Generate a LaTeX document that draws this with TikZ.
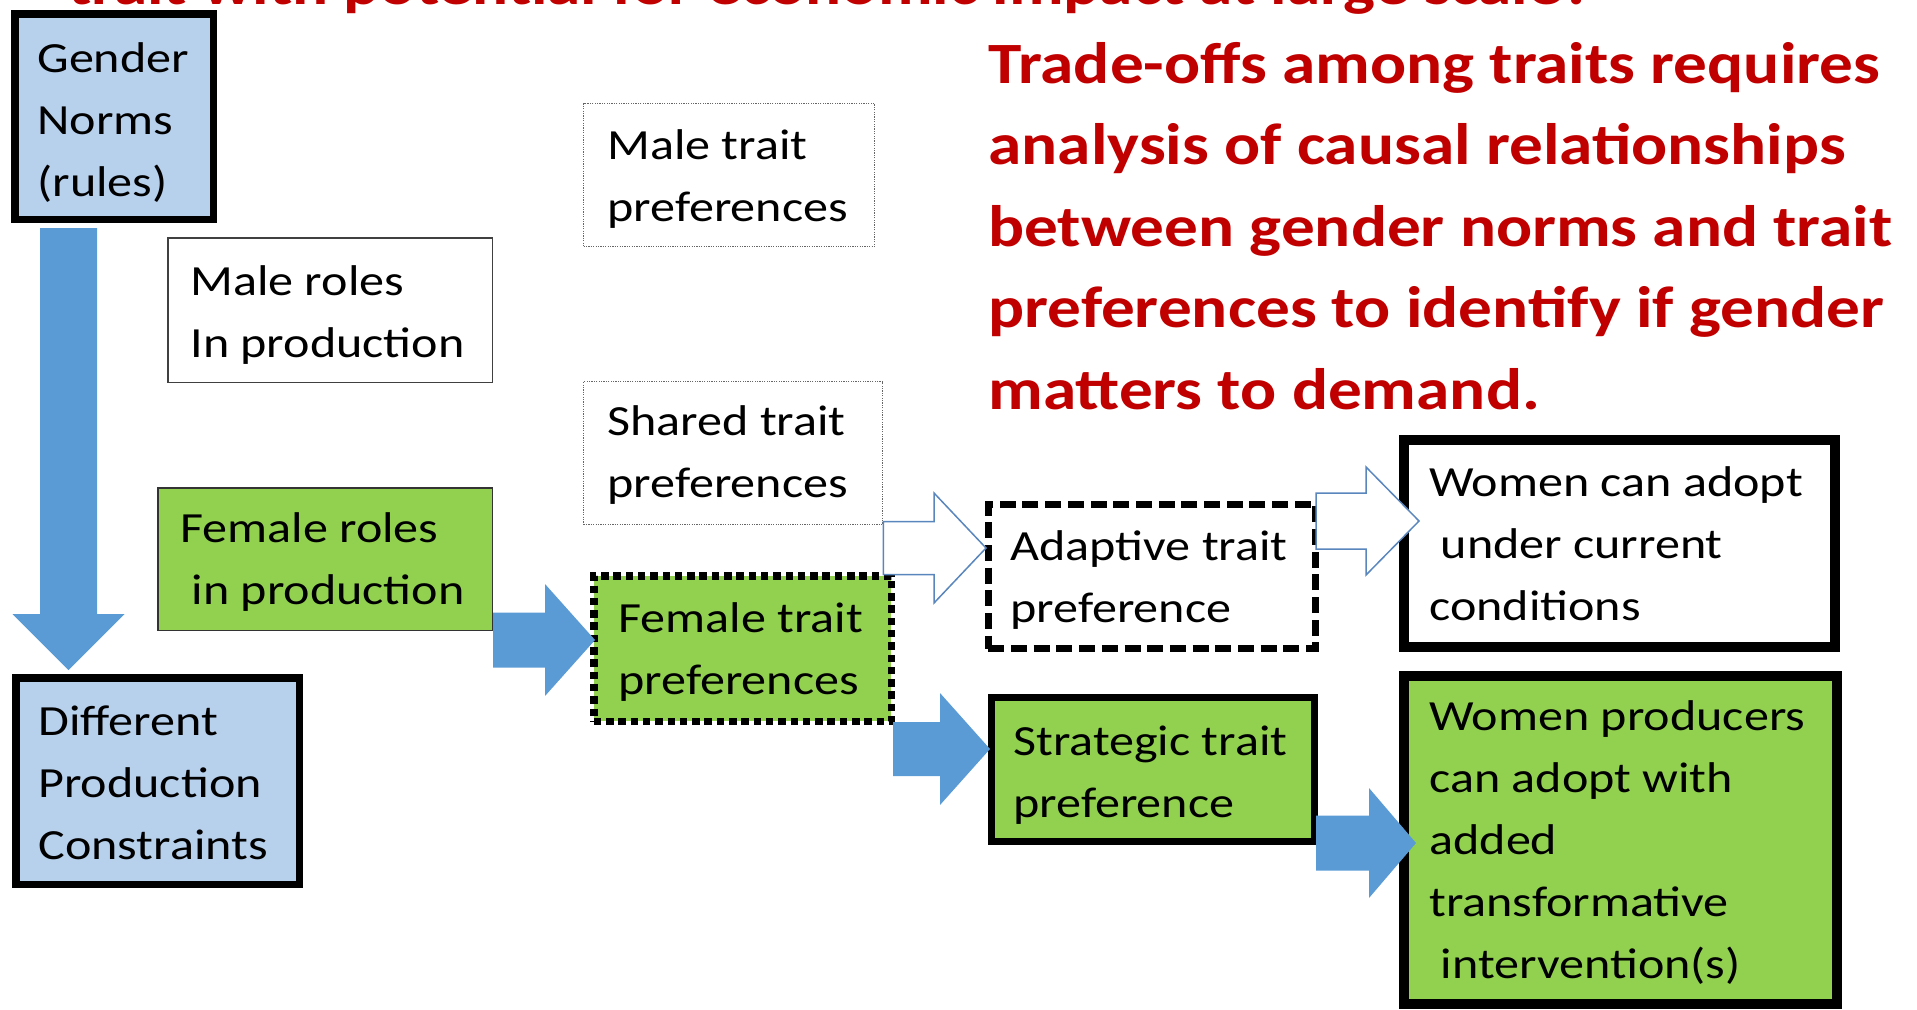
\documentclass[tikz,border=0pt]{standalone}
\usepackage{fontspec}
\setmainfont{Carlito}[FakeStretch=1.165]
\newfontfamily\headfont{Carlito}[FakeStretch=1.15]
\usetikzlibrary{calc}

\definecolor{normblue}{HTML}{B7D0EC}
\definecolor{rolegreen}{HTML}{92D050}
\definecolor{flowblue}{HTML}{5B9BD5}
\definecolor{edgeblue}{HTML}{5A86BE}
\definecolor{notered}{HTML}{C00000}

\newcommand\bodytext{\fontsize{21.5pt}{31pt}\selectfont}
\newcommand\redtext{\headfont\bfseries\fontsize{29.25pt}{40.75pt}\selectfont}
% first-line strut: fixes the distance from a label's top to its first baseline
\newcommand\fl{\rule{0pt}{20pt}}

% horizontal block arrow: style, start, tip, half shaft, half head, head length
\newcommand\hblock[6]{\path[#1] let \p1=(#2),\p2=(#3) in
  (\x1,\y2+#4) -- (\x2-#6,\y2+#4) -- (\x2-#6,\y2+#5) -- (\x2,\y2)
  -- (\x2-#6,\y2-#5) -- (\x2-#6,\y2-#4) -- (\x1,\y2-#4) -- cycle;}
% downward block arrow: style, start, tip, half shaft, half head, head length
\newcommand\vblock[6]{\path[#1] let \p1=(#2),\p2=(#3) in
  (\x2+#4,\y1) -- (\x2+#4,\y2+#6) -- (\x2+#5,\y2+#6) -- (\x2,\y2)
  -- (\x2-#5,\y2+#6) -- (\x2-#4,\y2+#6) -- (\x2-#4,\y1) -- cycle;}

\begin{document}
\begin{tikzpicture}[x=0.5pt,y=-0.5pt,
  every node/.style={inner sep=0pt},
  normbox/.style={rectangle, draw=black, line width=3.75pt, fill=normblue},
  rolebox/.style={rectangle, draw=black!75, line width=0.75pt},
  prefbox/.style={rectangle, draw=black!60, line width=0.75pt, dash pattern=on 0.6pt off 0.6pt},
  femalebox/.style={rectangle, draw=black, fill=rolegreen, line width=3.75pt, dash pattern=on 3.75pt off 2.4pt},
  adaptbox/.style={rectangle, draw=black, line width=3.3pt, dash pattern=on 8pt off 3.35pt},
  stratbox/.style={rectangle, draw=black, fill=rolegreen, line width=3.5pt},
  outcomebox/.style={rectangle, draw=black, line width=5pt},
  label/.style={anchor=north west, align=left, font=\bodytext},
  flow/.style={fill=flowblue},
  hollowflow/.style={draw=edgeblue, fill=white, line width=0.75pt, line join=miter},
]
\clip (0,0) rectangle (1917,1009);
\useasboundingbox (0,0) rectangle (1917,1009);

% question heading, cut by the top edge
\node[anchor=base west, font=\redtext, text=notered] (tq) at (68,4)
  {trait with potential for economic impact at large scale?};

% boxes
\node[normbox, minimum width=99.25pt, minimum height=102.75pt] (gn) at (114,116.5) {};
\node[rolebox, minimum width=162.25pt, minimum height=72.25pt] (mr) at (330,310) {};
\node[rolebox, fill=rolegreen, draw=black!80, minimum width=167.25pt, minimum height=71.25pt] (fr) at (325,559) {};
\node[normbox, minimum width=141.75pt, minimum height=103.25pt] (dpc) at (157.5,781) {};
\node[prefbox, minimum width=145.5pt, minimum height=71.5pt] (mt) at (729,175) {};
\node[prefbox, minimum width=149.5pt, minimum height=71.5pt] (st) at (733,453) {};
\node[femalebox, minimum width=148.75pt, minimum height=72.75pt] (ftp) at (742.5,648.5) {};
\node[adaptbox, minimum width=163.7pt, minimum height=72.2pt] (atp) at (1152,576.5) {};
\node[stratbox, minimum width=161.5pt, minimum height=72pt] (stp) at (1153,769.5) {};
\node[outcomebox, fill=white, minimum width=215.5pt, minimum height=103.5pt] (wca) at (1619.5,543.5) {};
\node[outcomebox, fill=rolegreen, minimum width=216.5pt, minimum height=164pt] (wp) at (1620.5,840) {};

% box texts (node top = first baseline - 40)
\node[label] (gn-t) at (37,32) {\fl Gender\\Norms\\(rules)};
\node[label] (mr-t) at (190,255) {\fl Male roles\\In production};
\node[label] (fr-t) at (180,502) {\fl Female roles\\\ in production};
\node[label] (dpc-t) at (38,695) {\fl Different\\Production\\Constraints};
\node[label] (mt-t) at (607,119) {\fl Male trait\\preferences};
\node[label] (st-t) at (607,395) {\fl Shared trait\\preferences};
\node[label] (ftp-t) at (618,592) {\fl Female trait\\preferences};
\node[label] (atp-t) at (1010,520) {\fl Adaptive trait\\preference};
\node[label] (stp-t) at (1013,715) {\fl Strategic trait\\preference};
\node[label] (wca-t) at (1429,456) {\fl Women can adopt\\\ under current\\conditions};
\node[label] (wp-t) at (1429,690) {\fl Women producers\\can adopt with\\added\\transformative\\\ intervention(s)};

% note on the right
\node[label, font=\redtext, text=notered] (rq) at (988,27)
  {\rule{0pt}{28pt}Trade-offs among traits requires\\analysis of causal relationships\\between gender norms and trait\\preferences to identify if gender\\matters to demand.};

% connector end points
\coordinate (d0) at ($(gn.south west)+(57.5,5)$);
\coordinate (d1) at ($(dpc.north west)+(56.5,-4)$);
\coordinate (b1s) at (fr.east |- 0,640);
\coordinate (b1t) at ($(ftp.west |- 0,640)+(5,0)$);
\coordinate (b2s) at ($(ftp.east |- 0,749)+(-2,0)$);
\coordinate (b2t) at ($(stp.west |- 0,749)+(2,0)$);
\coordinate (b3s) at ($(stp.east |- 0,843)+(-2,0)$);
\coordinate (b3t) at ($(wp.west |- 0,843)+(17,0)$);
\coordinate (o1s) at (st.east |- 0,548);
\coordinate (o1t) at ($(atp.west |- 0,548)+(1,0)$);
\coordinate (o2s) at ($(atp.east |- 0,521)+(-3,0)$);
\coordinate (o2t) at ($(wca.west |- 0,521)+(20,0)$);

% connectors
\vblock{flow}{d0}{d1}{14.25pt}{28pt}{28pt}
\hblock{flow}{b1s}{b1t}{13.75pt}{28pt}{25pt}
\hblock{flow}{b2s}{b2t}{13.5pt}{28pt}{25pt}
\hblock{flow}{b3s}{b3t}{13.75pt}{27.5pt}{23.5pt}
\hblock{hollowflow}{o1s}{o1t}{13.25pt}{27.5pt}{26pt}
\hblock{hollowflow}{o2s}{o2t}{14pt}{27pt}{26.5pt}
\end{tikzpicture}
\end{document}
